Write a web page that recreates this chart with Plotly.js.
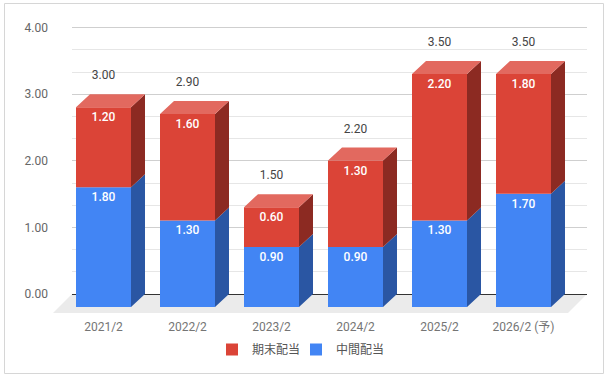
<!DOCTYPE html>
<html>
<head>
<meta charset="utf-8">
<script src="https://cdn.plot.ly/plotly-3.0.1.min.js"></script>
<style>
  html, body { margin: 0; padding: 0; background: #ffffff; }
  #chart { width: 608px; height: 378px; }
</style>
</head>
<body>
<div id="chart"></div>
<script>
// ---- data ----
const categories = ["2021/2", "2022/2", "2023/2", "2024/2", "2025/2", "2026/2 (予)"];
const interimDiv = [1.80, 1.30, 0.90, 0.90, 1.30, 1.70];   // 中間配当
const finalDiv   = [1.20, 1.60, 0.60, 1.30, 2.20, 1.80];   // 期末配当
const seriesNames = { interim: "中間配当", final: "期末配当" };
const yTicks = [0, 1, 2, 3, 4];

// ---- geometry (pixels -> data units) ----
const W = 608, H = 378;
const M = { l: 72, r: 21, t: 21, b: 64 };
const plotW = W - M.l - M.r, plotH = H - M.t - M.b;
const yRange = [-0.3, 4.1];
const pxPerY = plotH / (yRange[1] - yRange[0]);
const pxPerX = 84;
const xRange = [-31.5 / pxPerX, -31.5 / pxPerX + plotW / pxPerX];
const DX = 14 / pxPerX;        // depth offset (x)
const DY = 13 / pxPerY;        // depth offset (y)
const BW = 55 / pxPerX;        // bar width
const base0 = -DY;             // front face baseline

const xs = categories.map((_, i) => i);
const totals = categories.map((_, i) => interimDiv[i] + finalDiv[i]);
const fmt = v => v.toFixed(2);

// side faces and top caps, built from the data
function sidePoly(bottoms, tops) {
  const X = [], Y = [];
  xs.forEach((x, i) => {
    const xr = x + BW / 2, b = bottoms[i], t = tops[i];
    X.push(xr, xr + DX, xr + DX, xr, xr, null);
    Y.push(b, b + DY, t + DY, t, b, null);
  });
  return { X, Y };
}
function capPoly(tops) {
  const X = [], Y = [];
  xs.forEach((x, i) => {
    const xl = x - BW / 2, xr = x + BW / 2, t = tops[i];
    X.push(xl, xl + DX, xr + DX, xr, xl, null);
    Y.push(t, t + DY, t + DY, t, t, null);
  });
  return { X, Y };
}

const blueBottom = xs.map(() => base0);
const blueTop = interimDiv.map(v => base0 + v);
const redTop = xs.map((_, i) => base0 + interimDiv[i] + finalDiv[i]);

const C = {
  blue: "#4285f4", blueSide: "#2a56a3",
  red: "#db4437", redSide: "#8c2a22", redCap: "#e2695f"
};
const FONT = "Roboto, 'Noto Sans CJK JP', sans-serif";

const blueSide = sidePoly(blueBottom, blueTop);
const redSide = sidePoly(blueTop, redTop);
const redCap = capPoly(redTop);

const traces = [
  {
    type: "bar", name: seriesNames.interim, x: xs, y: interimDiv, base: blueBottom,
    width: BW, marker: { color: C.blue, line: { width: 0 } }, legend: "legend2",
    hoverinfo: "skip"
  },
  {
    type: "bar", name: seriesNames.final, x: xs, y: finalDiv, base: blueTop,
    width: BW, marker: { color: C.red, line: { width: 0 } }, legend: "legend",
    hoverinfo: "skip"
  },
  {
    type: "scatter", mode: "lines", x: blueSide.X, y: blueSide.Y, fill: "toself",
    fillcolor: C.blueSide, line: { width: 0, color: C.blueSide }, showlegend: false, hoverinfo: "skip"
  },
  {
    type: "scatter", mode: "lines", x: redSide.X, y: redSide.Y, fill: "toself",
    fillcolor: C.redSide, line: { width: 0, color: C.redSide }, showlegend: false, hoverinfo: "skip"
  },
  {
    type: "scatter", mode: "lines", x: redCap.X, y: redCap.Y, fill: "toself",
    fillcolor: C.redCap, line: { width: 0, color: C.redCap }, showlegend: false, hoverinfo: "skip"
  },
  // segment value labels (white, near top of each segment)
  {
    type: "scatter", mode: "text", x: xs, y: blueTop.map(v => v - 11 / pxPerY),
    text: interimDiv.map(fmt), textfont: { family: FONT, size: 12, color: "#ffffff", weight: 500 },
    showlegend: false, hoverinfo: "skip", cliponaxis: false
  },
  {
    type: "scatter", mode: "text", x: xs, y: redTop.map(v => v - 11 / pxPerY),
    text: finalDiv.map(fmt), textfont: { family: FONT, size: 12, color: "#ffffff", weight: 500 },
    showlegend: false, hoverinfo: "skip", cliponaxis: false
  },
  // total labels above each bar
  {
    type: "scatter", mode: "text", x: xs, y: totals.map(v => v + 18 / pxPerY),
    text: totals.map(fmt), textfont: { family: FONT, size: 12, color: "#444444" },
    showlegend: false, hoverinfo: "skip", cliponaxis: false
  }
];

// pixel -> paper helpers for decoration shapes / legend placement
const px2paperX = px => (px - M.l) / plotW;
const px2paperY = py => (H - M.b - py) / plotH;
const floorPath = "M" + [[72, 294], [587, 294], [568, 313], [53, 313]]
  .map(p => px2paperX(p[0]) + "," + px2paperY(p[1])).join("L") + "Z";

const legendCommon = {
  orientation: "h", xanchor: "left", yanchor: "top",
  y: px2paperY(335),
  font: { family: FONT, size: 12, color: "#555555" },
  bgcolor: "rgba(0,0,0,0)", borderwidth: 0
};

const layout = {
  width: W, height: H,
  margin: M,
  paper_bgcolor: "#ffffff", plot_bgcolor: "rgba(0,0,0,0)",
  font: { family: FONT, size: 12, color: "#666666" },
  barmode: "overlay",
  showlegend: true,
  legend: Object.assign({}, legendCommon, { x: px2paperX(212) }),
  legend2: Object.assign({}, legendCommon, { x: px2paperX(296) }),
  xaxis: {
    range: xRange, tickvals: xs, ticktext: categories,
    showgrid: false, zeroline: false, showline: false, ticks: "",
    tickfont: { family: FONT, size: 12, color: "#757575" },
    ticklabelstandoff: 4, fixedrange: true
  },
  yaxis: {
    range: yRange, tickvals: yTicks, ticktext: yTicks.map(fmt),
    showgrid: true, gridcolor: "#cfcfcf", gridwidth: 1,
    minor: { dtick: 1 / 3, tick0: 0, showgrid: true, gridcolor: "#e6e6e6", gridwidth: 1 },
    zeroline: true, zerolinecolor: "#333333", zerolinewidth: 1,
    showline: false, ticks: "",
    tickfont: { family: FONT, size: 12, color: "#666666" },
    ticklabelstandoff: 23, fixedrange: true
  },
  shapes: [
    {
      type: "path", xref: "paper", yref: "paper", path: floorPath,
      fillcolor: "#ebebeb", line: { width: 0 }, layer: "below"
    },
    {
      type: "rect", xref: "paper", yref: "paper",
      x0: px2paperX(4.5), x1: px2paperX(603.5), y0: px2paperY(373.5), y1: px2paperY(3.5),
      line: { color: "#d6d6d6", width: 1 }, fillcolor: "rgba(0,0,0,0)", layer: "above"
    }
  ]
};

Plotly.newPlot("chart", traces, layout, { displayModeBar: false, staticPlot: true });
</script>
</body>
</html>
